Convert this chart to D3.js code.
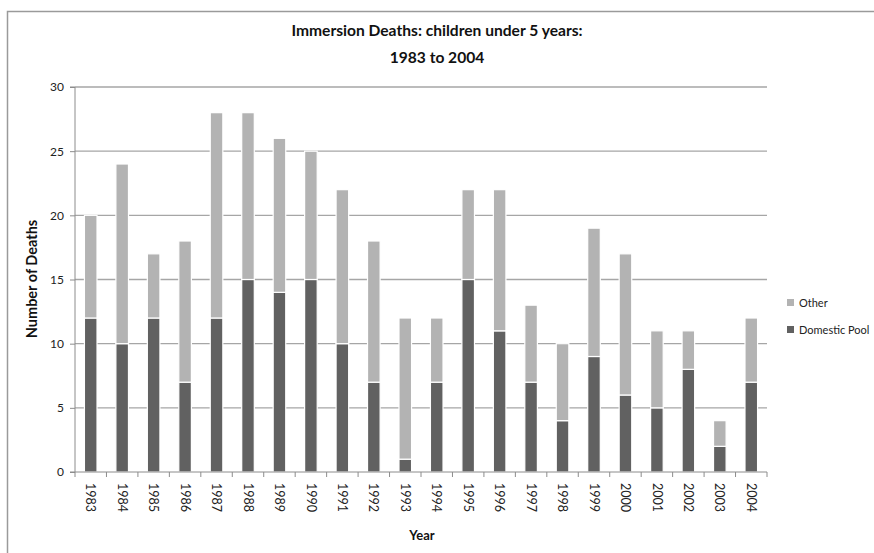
<!DOCTYPE html>
<html><head><meta charset="utf-8">
<script src="https://cdn.jsdelivr.net/npm/d3@7"></script>
<style>body{margin:0;background:#fff;}svg{display:block;}</style>
</head><body>
<svg id="c" width="874" height="553"></svg>
<script>
const years = ["1983","1984","1985","1986","1987","1988","1989","1990","1991","1992","1993","1994","1995","1996","1997","1998","1999","2000","2001","2002","2003","2004"];
const domesticPool = [12,10,12,7,12,15,14,15,10,7,1,7,15,11,7,4,9,6,5,8,2,7];
const other = [8,14,5,11,16,13,12,10,12,11,11,5,7,11,6,6,10,11,6,3,2,5];
const yTicks = [0,5,10,15,20,25,30];
const seriesNames = ["Domestic Pool","Other"];
const colors = {"Domestic Pool":"#616161","Other":"#b3b3b3"};

const svg = d3.select("#c");
const font = "Lato, 'Open Sans', sans-serif";
const m = {l:75, r:767, t:87, b:472};
// outer frame (top & left edges visible)
svg.append("path").attr("d",`M7.5,553 V11.5 H874`).attr("fill","none").attr("stroke","#9a9a9a").attr("stroke-width",1.5);

const x = d3.scaleBand().domain(years).range([m.l,m.r]).paddingInner(0.6).paddingOuter(0.3);
const y = d3.scaleLinear().domain([0,30]).range([m.b,m.t]);

// gridlines
svg.append("g").selectAll("line").data(yTicks.filter(d=>d>0)).join("line")
  .attr("x1",m.l).attr("x2",m.r).attr("y1",d=>y(d)).attr("y2",d=>y(d))
  .attr("stroke","#a6a6a6").attr("stroke-width",1.3);

// stacked bars
const table = years.map((yr,i)=>({year:yr,"Domestic Pool":domesticPool[i],"Other":other[i]}));
const stack = d3.stack().keys(seriesNames)(table);
svg.append("g").selectAll("g").data(stack).join("g").attr("fill",d=>colors[d.key])
  .selectAll("rect").data(d=>d).join("rect")
  .attr("x",d=>x(d.data.year)).attr("width",x.bandwidth())
  .attr("y",d=>y(d[1])).attr("height",d=>y(d[0])-y(d[1]))
  .attr("stroke","#ffffff").attr("stroke-width",1.2);

// y axis
const ya = svg.append("g").attr("transform",`translate(${m.l},0)`)
  .call(d3.axisLeft(y).tickValues(yTicks).tickSize(5).tickPadding(6).tickFormat(d3.format("d")));
ya.select(".domain").attr("stroke","#8c8c8c").attr("d",`M-5,${m.b}H0V${m.t}H-5`);
ya.selectAll(".tick line").attr("stroke","#8c8c8c");
ya.selectAll("text").attr("font-family",font).attr("font-size",12).attr("fill","#222");

// x axis
const xa = svg.append("g").attr("transform",`translate(0,${m.b})`)
  .call(d3.axisBottom(x).tickSize(0).tickPadding(0));
xa.select(".domain").attr("stroke","#8c8c8c").attr("d",`M${m.l},0H${m.r}`);
const step = x.step();
xa.append("g").selectAll("line").data(d3.range(years.length+1)).join("line")
  .attr("x1",i=>m.l+i*step).attr("x2",i=>m.l+i*step).attr("y1",0).attr("y2",5)
  .attr("stroke","#8c8c8c");
xa.selectAll(".tick text").attr("font-family",font).attr("font-size",12.5).attr("fill","#222")
  .attr("transform","translate(0,11) rotate(90)").attr("text-anchor","start").attr("dy","0.35em").attr("y",0).attr("x",0);

// titles
svg.append("text").attr("x",437).attr("y",36).attr("text-anchor","middle").attr("font-family",font)
  .attr("font-weight","bold").attr("font-size",15.6).attr("fill","#111").text("Immersion Deaths: children under 5 years:");
svg.append("text").attr("x",437).attr("y",63).attr("text-anchor","middle").attr("font-family",font)
  .attr("font-weight","bold").attr("font-size",15.6).attr("fill","#111").text("1983 to 2004");
svg.append("text").attr("x",422).attr("y",540).attr("text-anchor","middle").attr("font-family",font)
  .attr("font-weight","bold").attr("font-size",13).attr("fill","#111").text("Year");
svg.append("text").attr("transform","translate(37,279) rotate(-90)").attr("text-anchor","middle").attr("font-family",font)
  .attr("font-weight","bold").attr("font-size",14.5).attr("fill","#111").text("Number of Deaths");

// legend
const legendItems = ["Other","Domestic Pool"];
const lg = svg.append("g").selectAll("g").data(legendItems).join("g")
  .attr("transform",(d,i)=>`translate(787,${303+i*27})`);
lg.append("rect").attr("x",0).attr("y",-4).attr("width",7).attr("height",7).attr("fill",d=>colors[d]);
lg.append("text").attr("x",12).attr("y",0).attr("dy","0.35em").attr("font-family",font).attr("font-size",11)
  .attr("fill","#222").text(d=>d);
</script>
</body></html>
